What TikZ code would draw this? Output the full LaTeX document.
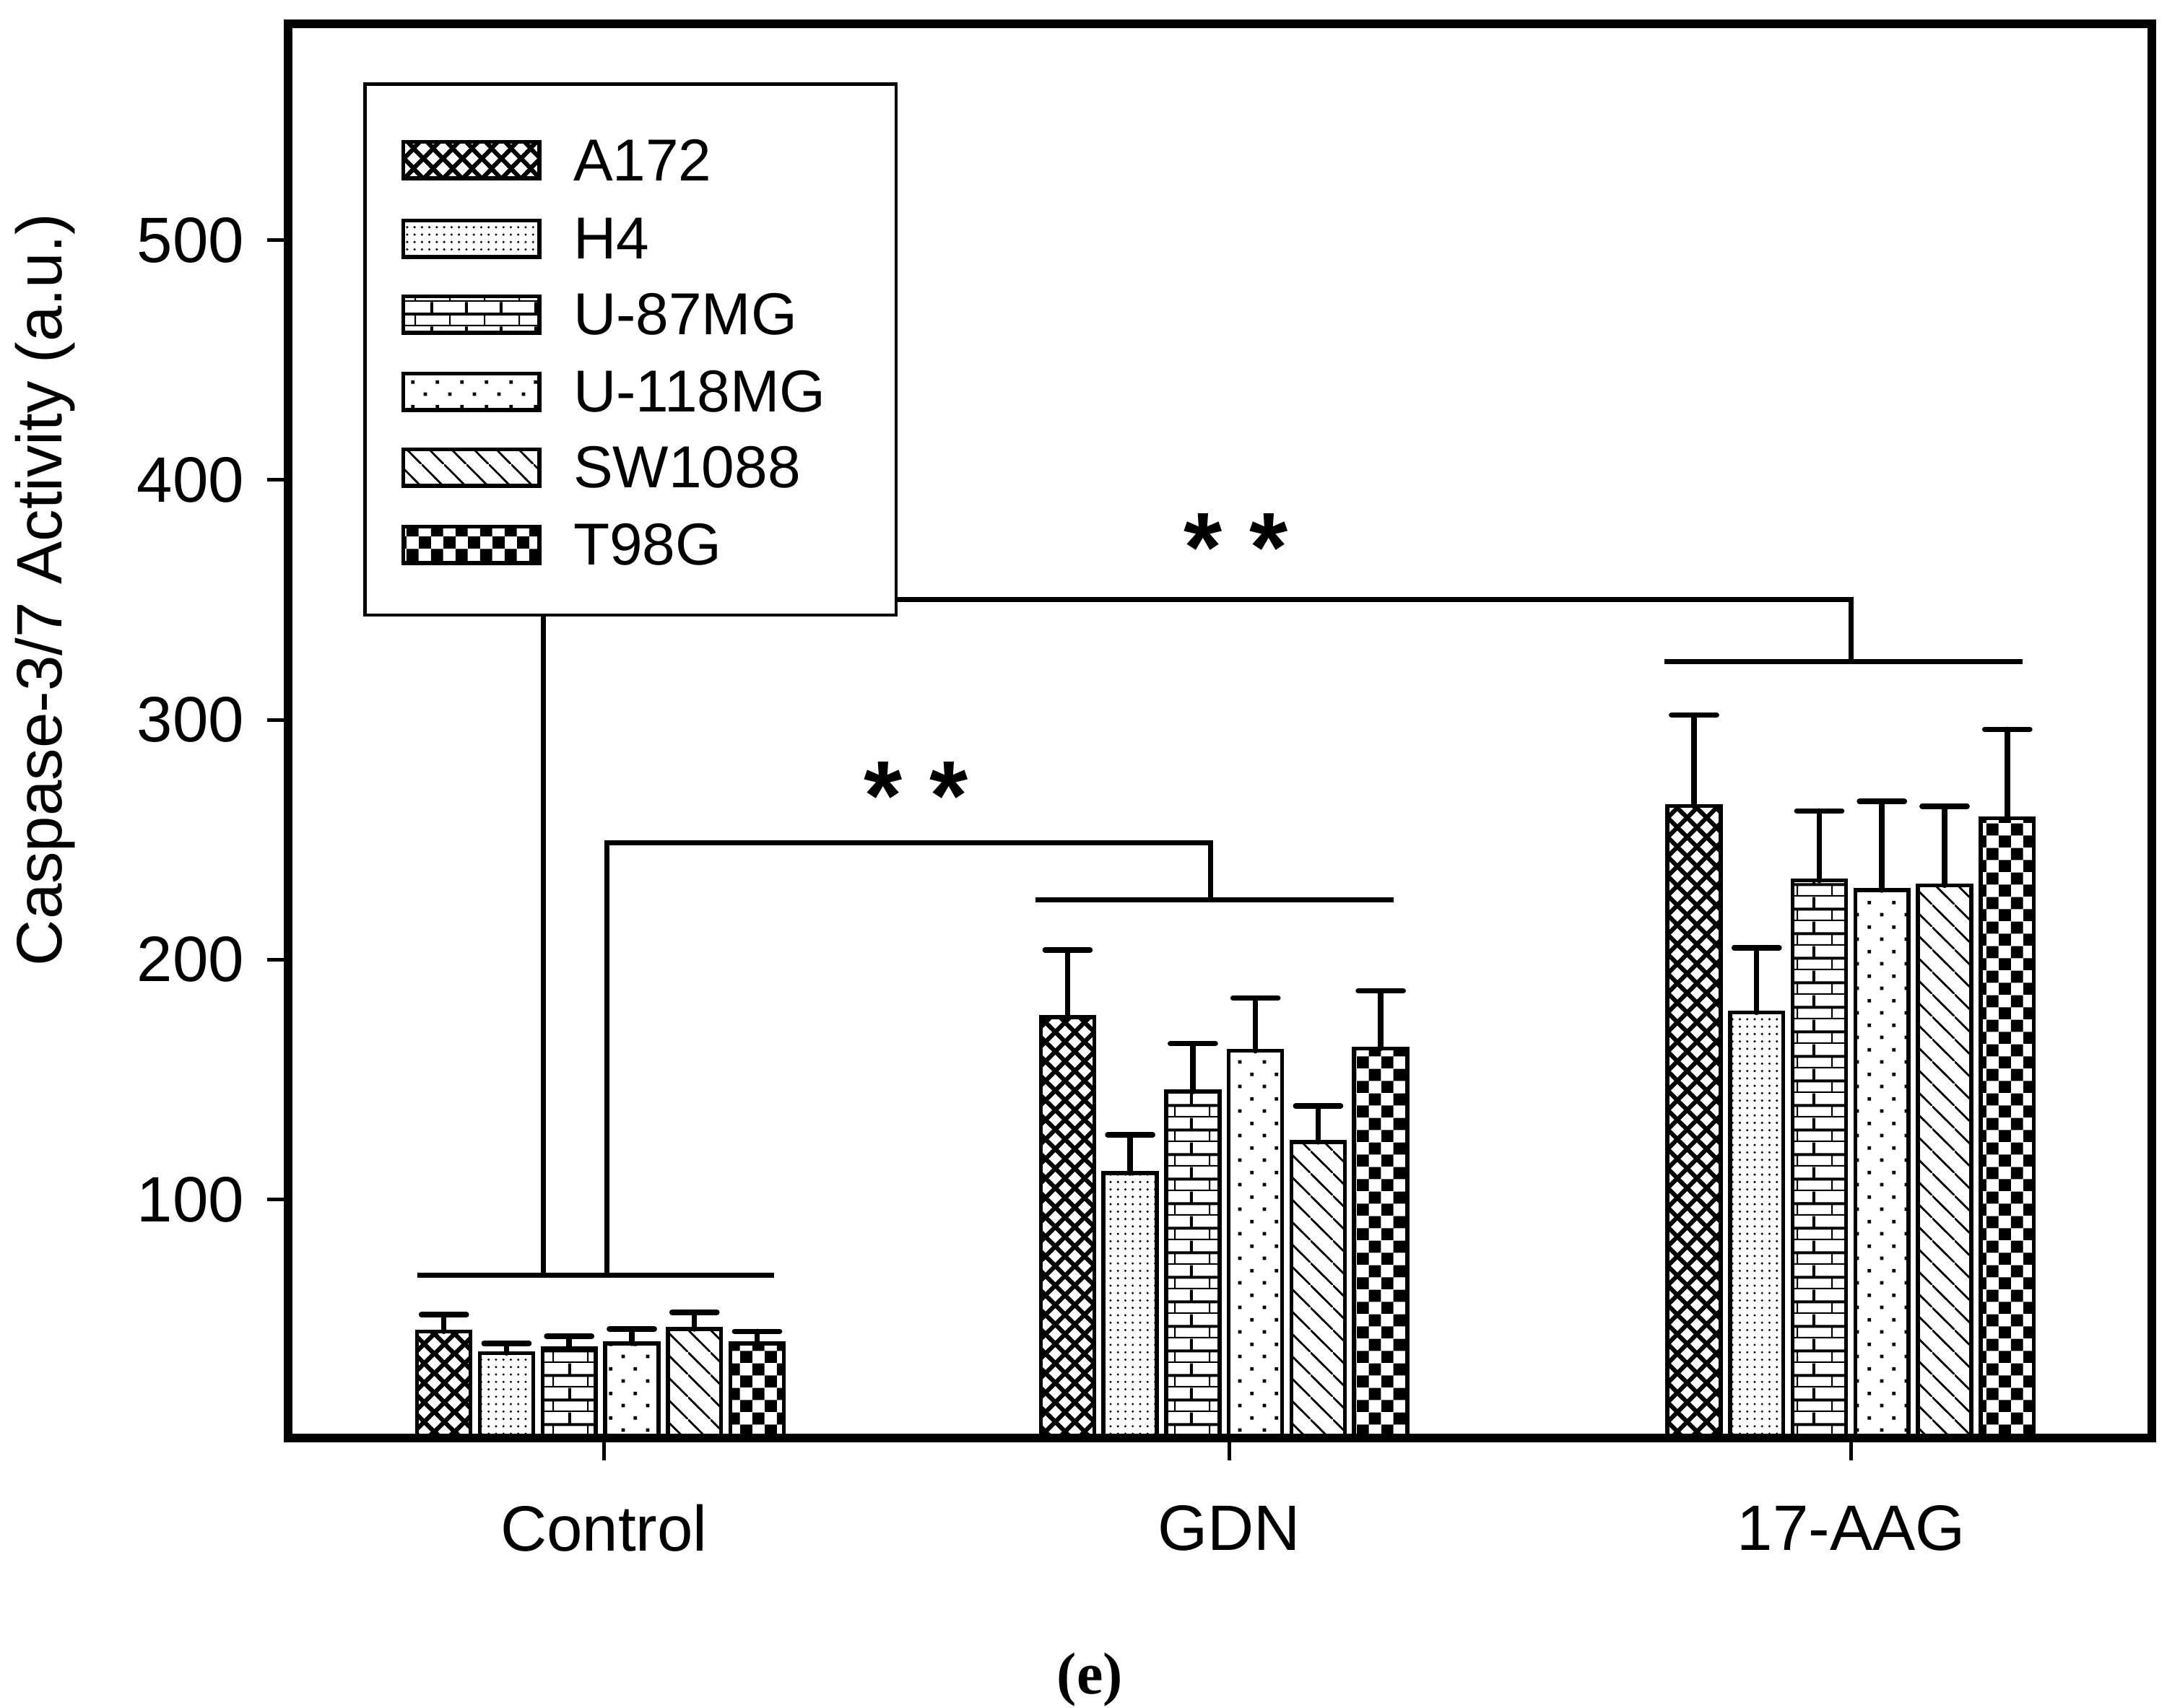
\documentclass[tikz,border=0pt]{standalone}
\usepackage{fontspec}
\setmainfont{Liberation Sans}
\newfontfamily\capfont{Liberation Serif}
\usetikzlibrary{patterns,patterns.meta}
\tikzdeclarepattern{name=bigcross,type=uncolored,bottom left={(0pt,0pt)},top right={(8pt,8pt)},tile size={(8pt,8pt)},
  code={\draw[line width=1.8pt] (-1pt,-1pt)--(9pt,9pt) (-1pt,9pt)--(9pt,-1pt);}}
\tikzdeclarepattern{name=bigcheck,type=uncolored,bottom left={(0pt,0pt)},top right={(10pt,10pt)},tile size={(10pt,10pt)},
  code={\fill (0pt,0pt) rectangle (5pt,5pt) (5pt,5pt) rectangle (10pt,10pt);}}
\tikzdeclarepattern{name=bigbrick,type=uncolored,bottom left={(0pt,0pt)},top right={(14pt,10pt)},tile size={(14pt,10pt)},
  code={\draw[line width=1.2pt] (-1pt,0pt)--(15pt,0pt) (-1pt,5pt)--(15pt,5pt) (0pt,0pt)--(0pt,5pt) (7pt,5pt)--(7pt,10pt);}}
\tikzdeclarepattern{name=sparsedots,type=uncolored,bottom left={(0pt,0pt)},top right={(10pt,10pt)},tile size={(10pt,10pt)},
  code={\fill (2pt,2pt) rectangle (3.4pt,3.4pt) (7pt,7pt) rectangle (8.4pt,8.4pt);}}
\tikzdeclarepattern{name=sparselines,type=uncolored,bottom left={(0pt,0pt)},top right={(9pt,9pt)},tile size={(9pt,9pt)},
  code={\draw[line width=0.8pt] (-1pt,10pt)--(10pt,-1pt);}}
\begin{document}
\begin{tikzpicture}[x=0.02cm,y=-0.02cm,
  bar/.style={draw=black,line width=1.6pt},
  err/.style={line width=2.2pt,line cap=round},
  brk/.style={line width=2pt},
  lbl/.style={font=\fontsize{24}{28}\selectfont},
  tick/.style={font=\fontsize{26}{30}\selectfont}]
\useasboundingbox (0,0) rectangle (1552,1216);
\foreach \v in {100,200,300,400,500}{
  \draw[line width=1.5pt] (190,{1025-1.708*\v}) -- (205,{1025-1.708*\v});
  \node[tick,anchor=east] at (180,{1025-1.708*\v}) {\v};}
\foreach \x/\t in {430/Control,875/GDN,1318/17-AAG}{
  \draw[line width=1.5pt] (\x,1024) -- (\x,1040);
  \node[tick] at (\x,1088) {\t};}
\node[tick,rotate=90] at (32,420) {Caspase-3/7 Activity (a.u.)};
\def\pats{{"bigcross","dots","bigbrick","sparsedots","sparselines","bigcheck"}}
\foreach \gx/\vals/\errs in {297/{45,36,38,40,46,40}/{52,40,43,46,53,45},
                           741/{176,111,145,162,124,163}/{204,127,165,184,139,187},
                           1187/{264,178,233,229,231,259}/{302,205,262,266,264,296}}{
  \foreach \v [count=\i from 0] in \vals {
    \pgfmathsetmacro{\xl}{\gx+44.6*\i}
    \pgfmathsetmacro{\e}{{\errs}[\i]}
    \pgfmathsetmacro{\p}{\pats[\i]}
    \draw[err] ({\xl+19},{1025-1.708*\v}) -- ({\xl+19},{1025-1.708*\e});
    \draw[err] ({\xl+3},{1025-1.708*\e}) -- ({\xl+35},{1025-1.708*\e});
    \draw[bar,pattern=\p] (\xl,1025) rectangle ({\xl+38},{1025-1.708*\v});
  }}
\draw[brk] (297,908) -- (551,908);
\draw[brk] (432,908) -- (432,600) -- (862,600) -- (862,641);
\draw[brk] (737,641) -- (992,641);
\draw[brk] (387,908) -- (387,430);
\draw[brk] (620,427) -- (1318,427) -- (1318,471);
\draw[brk] (1185,471) -- (1440,471);
\node[font=\fontsize{40}{40}\selectfont\bfseries] (s1) at (652,567) {* *};
\node[font=\fontsize{40}{40}\selectfont\bfseries] (s2) at (880,390) {* *};
\draw[line width=1.4pt,fill=white] (260,60) rectangle (638,438);
\foreach \n/\y [count=\i from 0] in {A172/114,H4/170,U-87MG/224,U-118MG/279,SW1088/333,T98G/388}{
  \pgfmathsetmacro{\p}{\pats[\i]}
  \draw[bar,pattern=\p] (287,\y-13) rectangle (384,\y+13);
  \node[lbl,anchor=west] at (402,\y) {\n};}
\draw[line width=3.5pt] (205,17) rectangle (1532,1024);
\node[font=\capfont\bfseries\fontsize{24}{28}\selectfont] at (776,1196) {(e)};
\end{tikzpicture}
\end{document}
